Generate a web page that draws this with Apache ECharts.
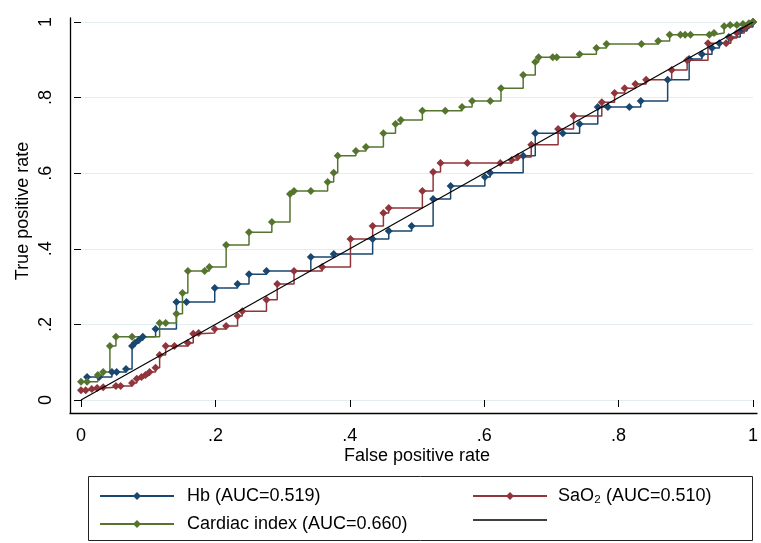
<!DOCTYPE html>
<html><head><meta charset="utf-8">
<script src="https://cdn.jsdelivr.net/npm/echarts@6/dist/echarts.min.js"></script>
<style>html,body{margin:0;padding:0;background:#fff}#c{width:761px;height:543px}</style>
</head><body><div id="c"></div><script>
// ---- data ----
const axisTicks = [0, 0.2, 0.4, 0.6, 0.8, 1];
const tickLabels = ['0', '.2', '.4', '.6', '.8', '1'];
const seriesNames = ['Hb (AUC=0.519)', 'SaO\u2082 (AUC=0.510)', 'Cardiac index (AUC=0.660)', 'Reference'];

const hbFpr = [0.009,0.027,0.046,0.053,0.067,0.076,0.080,0.086,0.092,0.111,0.142,0.157,0.199,0.233,0.250,0.276,0.342,0.376,0.434,0.458,0.492,0.524,0.550,0.601,0.609,0.658,0.676,0.717,0.742,0.769,0.784,0.816,0.833,0.873,0.905,0.924,0.939,0.950,0.964,0.981,0.991,1];
const hbTpr = [0.061,0.061,0.074,0.074,0.082,0.143,0.151,0.159,0.167,0.188,0.259,0.259,0.296,0.307,0.333,0.341,0.378,0.386,0.426,0.447,0.460,0.532,0.566,0.590,0.601,0.646,0.706,0.706,0.730,0.775,0.775,0.775,0.791,0.847,0.902,0.915,0.931,0.944,0.960,0.976,0.987,1];

const saFpr = [0,0.007,0.016,0.024,0.033,0.052,0.059,0.076,0.083,0.090,0.096,0.102,0.111,0.117,0.126,0.139,0.159,0.167,0.175,0.199,0.216,0.233,0.240,0.276,0.292,0.317,0.359,0.401,0.434,0.450,0.458,0.508,0.524,0.535,0.575,0.624,0.641,0.650,0.670,0.710,0.733,0.775,0.794,0.809,0.825,0.841,0.879,0.902,0.933,0.960,0.967,0.976,0.987,0.994,1];
const saTpr = [0.026,0.026,0.029,0.032,0.034,0.037,0.037,0.045,0.056,0.061,0.066,0.074,0.085,0.119,0.143,0.143,0.151,0.175,0.177,0.188,0.196,0.222,0.235,0.265,0.307,0.341,0.352,0.426,0.460,0.495,0.508,0.553,0.603,0.627,0.627,0.627,0.635,0.643,0.675,0.717,0.751,0.788,0.812,0.825,0.836,0.847,0.873,0.899,0.944,0.944,0.958,0.971,0.984,0.992,1];

const ciFpr = [0,0.009,0.025,0.033,0.043,0.052,0.076,0.117,0.126,0.142,0.151,0.159,0.184,0.191,0.216,0.250,0.284,0.311,0.317,0.342,0.367,0.376,0.382,0.409,0.424,0.450,0.468,0.476,0.508,0.542,0.567,0.582,0.609,0.625,0.658,0.676,0.681,0.702,0.708,0.742,0.767,0.782,0.834,0.859,0.876,0.892,0.899,0.907,0.935,0.942,0.957,0.966,0.976,0.985,0.994,1];
const ciTpr = [0.048,0.048,0.066,0.074,0.143,0.167,0.167,0.204,0.204,0.228,0.283,0.341,0.341,0.352,0.410,0.444,0.471,0.545,0.553,0.553,0.577,0.601,0.646,0.659,0.669,0.706,0.730,0.741,0.765,0.765,0.775,0.791,0.791,0.825,0.860,0.894,0.907,0.907,0.907,0.915,0.931,0.942,0.942,0.950,0.966,0.966,0.966,0.966,0.966,0.971,0.989,0.992,0.992,0.995,0.997,1];

const refFpr = [0, 1];
const refTpr = [0, 1];

// ---- chart ----
const zip = (a, b) => a.map((v, i) => [v, b[i]]);
const FONT = "'Liberation Sans', Arial, sans-serif";
const BLUE = '#1a476f', RED = '#90353b', GREEN = '#55752f';
const fmt = v => tickLabels[Math.round(v / 0.2)];

function rocSeries(name, data, color) {
  return {
    name, type: 'line', xAxisIndex: 0, yAxisIndex: 0, data, step: 'end',
    symbol: 'diamond', symbolSize: 8, showSymbol: true,
    lineStyle: { color, width: 1.5 }, itemStyle: { color },
    emphasis: { disabled: true }, z: 3
  };
}

const chart = echarts.init(document.getElementById('c'), null, { renderer: 'canvas' });
chart.setOption({
  animation: false,
  backgroundColor: '#fff',
  textStyle: { fontFamily: FONT },
  grid: [
    { left: 81, right: 5, top: 22, bottom: 143 },
    { left: 70, right: 4, top: 18, bottom: 130 }
  ],
  xAxis: [
    { type: 'value', gridIndex: 0, min: 0, max: 1, interval: 0.2, offset: 13,
      axisLine: { show: false },
      axisTick: { show: true, length: 7, inside: false, lineStyle: { color: '#000', width: 1 } },
      axisLabel: { formatter: fmt, fontSize: 18, color: '#000', margin: 14, fontFamily: FONT },
      splitLine: { show: false },
      name: 'False positive rate', nameLocation: 'middle', nameGap: 34, nameMoveOverlap: false,
      nameTextStyle: { fontSize: 18, color: '#000', fontFamily: FONT } },
    { type: 'value', gridIndex: 1, min: 0, max: 1,
      axisLine: { show: true, onZero: false, lineStyle: { color: '#000', width: 1.3 } },
      axisTick: { show: false }, axisLabel: { show: false }, splitLine: { show: false } }
  ],
  yAxis: [
    { type: 'value', gridIndex: 0, min: 0, max: 1, interval: 0.2, offset: 11,
      axisLine: { show: false },
      axisTick: { show: true, length: 7, inside: false, lineStyle: { color: '#000', width: 1 } },
      axisLabel: { formatter: fmt, fontSize: 18, color: '#000', margin: 15, rotate: 90, fontFamily: FONT },
      splitLine: { show: true, lineStyle: { color: '#e3eef0', width: 1.2 } },
      name: 'True positive rate', nameLocation: 'middle', nameGap: 38, nameMoveOverlap: false,
      nameTextStyle: { fontSize: 18, color: '#000', fontFamily: FONT } },
    { type: 'value', gridIndex: 1, min: 0, max: 1,
      axisLine: { show: true, onZero: false, lineStyle: { color: '#000', width: 1.3 } },
      axisTick: { show: false }, axisLabel: { show: false }, splitLine: { show: false } }
  ],
  legend: [
    { orient: 'vertical', left: 99, top: 487, padding: 0, itemGap: 10,
      itemWidth: 74, itemHeight: 10, selectedMode: false,
      data: [seriesNames[0], seriesNames[2]],
      textStyle: { fontSize: 18, color: '#000', fontFamily: FONT, padding: [0, 0, 0, 8] } },
    { orient: 'vertical', left: 472, top: 487, padding: 0, itemGap: 10,
      itemWidth: 74, itemHeight: 10, selectedMode: false,
      data: [seriesNames[1], { name: seriesNames[3], icon: 'path://M0,0 L74,0 L74,1.3 L0,1.3 Z' }],
      formatter: n => (n === 'Reference' ? '' : n),
      textStyle: { fontSize: 18, color: '#000', fontFamily: FONT, padding: [0, 0, 0, 6] } }
  ],
  graphic: [
    { type: 'rect', shape: { x: 88.5, y: 476.5, width: 664, height: 64 },
      style: { fill: 'none', stroke: '#222', lineWidth: 1 }, silent: true }
  ],
  series: [
    rocSeries(seriesNames[0], zip(hbFpr, hbTpr), BLUE),
    rocSeries(seriesNames[1], zip(saFpr, saTpr), RED),
    rocSeries(seriesNames[2], zip(ciFpr, ciTpr), GREEN),
    { name: seriesNames[3], type: 'line', xAxisIndex: 0, yAxisIndex: 0,
      data: zip(refFpr, refTpr), symbol: 'none', showSymbol: false,
      lineStyle: { color: '#000', width: 1.2 }, itemStyle: { color: '#000' },
      emphasis: { disabled: true }, z: 4 }
  ]
});
</script></body></html>
